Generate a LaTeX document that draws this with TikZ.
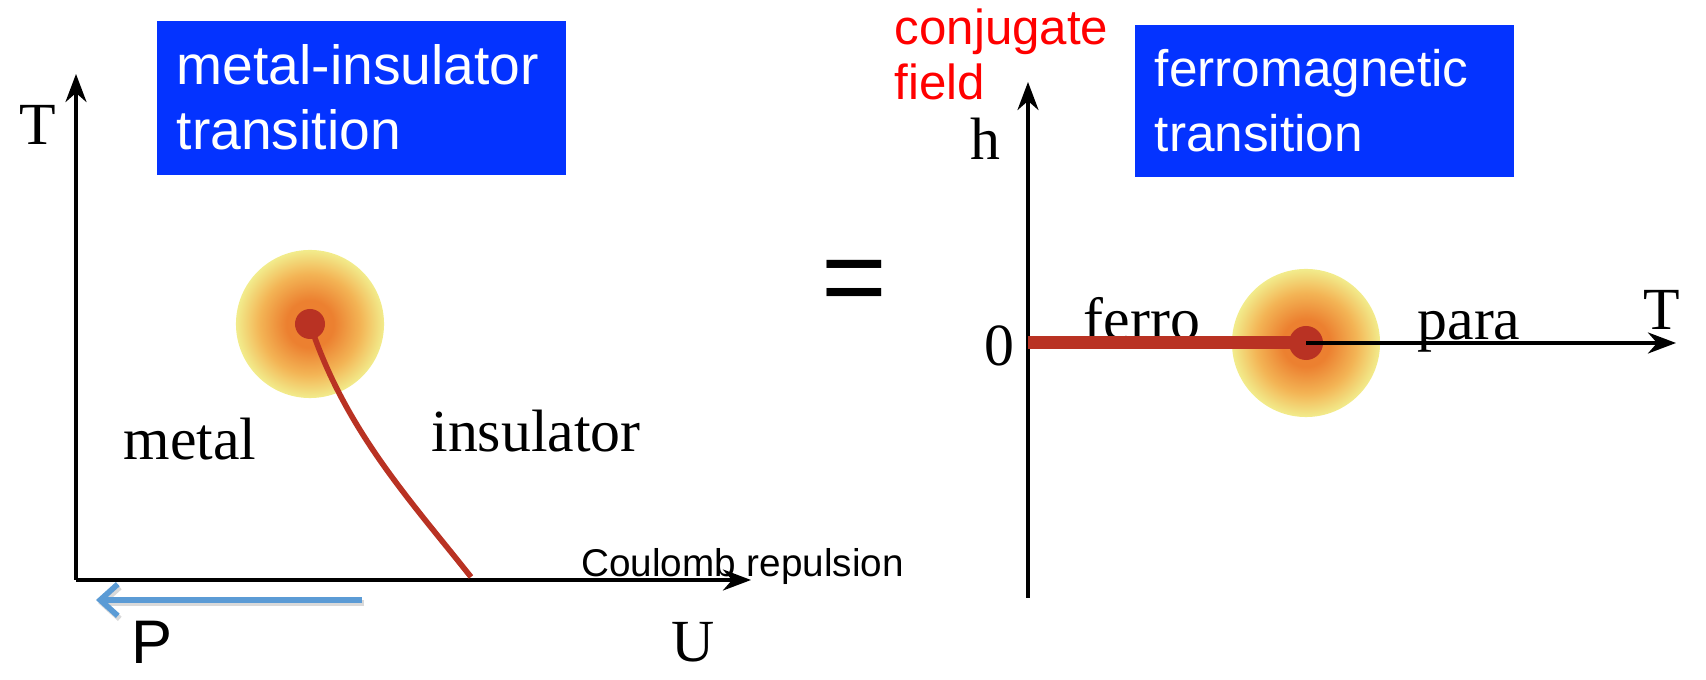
\documentclass[tikz,border=0pt]{standalone}
\usepackage{fontspec}
\setmainfont{Liberation Serif}
\setsansfont{Liberation Sans}
\usetikzlibrary{arrows.meta,positioning,calc}
\definecolor{titleblue}{RGB}{4,51,255}
\definecolor{critred}{RGB}{185,50,35}
\definecolor{glowcore}{RGB}{236,128,48}
\definecolor{glowmid}{RGB}{243,180,85}
\definecolor{glowrim}{RGB}{242,236,140}
\definecolor{pressblue}{RGB}{91,155,213}
\pgfdeclareradialshading{glowshade}{\pgfpoint{0bp}{0bp}}{color(0bp)=(glowcore); color(8bp)=(glowcore); color(17bp)=(glowmid); color(25bp)=(glowrim); color(50bp)=(glowrim)}

\begin{document}
\begin{tikzpicture}[
    x=0.01cm, y=-0.01cm,
    axis/.style={line width=0.9pt, -{Stealth[length=8pt, width=6pt]}},
    title/.style={rectangle, fill=titleblue, text=white, anchor=north west, align=left,
        inner xsep=0.2cm},
    serif/.style={font=\fontsize{17}{20}\selectfont},
    glow/.style={circle, shade, shading=glowshade, minimum size=1.48cm, inner sep=0pt},
    critpt/.style={circle, fill=critred, minimum size=0.3cm, inner sep=0pt}
]
    \useasboundingbox (0,0) rectangle (1706,680);

    % Metal-insulator diagram
    \coordinate (O1) at (76,580);
    \coordinate (Ttip) at (76,74);
    \coordinate (Utip) at (751,580);
    \draw[axis] (O1) -- (Ttip);
    \draw[axis] (O1) -- (Utip);
    \node[serif] (Tlab) at (38,125) {T};
    \node[serif] (Ulab) at (693,642) {U};
    \node[font=\sffamily\fontsize{11}{13}\selectfont, anchor=base west] (coul) at (569,577) {Coulomb repulsion};

    \node[title, text width=3.69cm, minimum height=1.54cm, font=\sffamily\fontsize{15.7}{18.5}\selectfont] (mit) at (156,20) {metal-insulator\\transition};

    \node[glow] (glowL) at (310,324) {};
    \coordinate (Uc) at (471,577);
    \draw[critred, line width=1.6pt] (glowL.center) .. controls (345,430) and (410,500) .. (Uc);
    \node[critpt] (cpL) at (glowL) {};

    \node[serif, anchor=base] (metal) at (190,460) {metal};
    \node[serif, anchor=base] (insul) at (536,452) {insulator};

    % Pressure arrow
    \coordinate (Pstart) at (362,600);
    \coordinate (Pend) at (96,600);
    \draw[gray!30, line width=1.6pt, -{Straight Barb[length=5pt, width=9pt]}] ($(Pstart)+(2,3)$) -- ($(Pend)+(2,3)$);
    \draw[pressblue, line width=1.6pt, -{Straight Barb[length=5pt, width=9pt]}] (Pstart) -- (Pend);
    \node[font=\sffamily\fontsize{17.5}{20}\selectfont, inner sep=0pt, anchor=base] (Plab) at (152,664) {P};

    \node[font=\sffamily\fontsize{32}{36}\selectfont] (eq) at (854,288) {=};

    % Ferromagnet diagram
    \coordinate (O2) at (1028,343);
    \coordinate (hbot) at (1028,598);
    \coordinate (htip) at (1028,82);
    \coordinate (Ttip2) at (1676,343);
    \draw[axis] (hbot) -- (htip);
    \node[serif] (hlab) at (985,139) {h};
    \node[serif] (zero) at (999,346) {0};
    \node[serif] (Tlab2) at (1662,310) {T};
    \node[font=\sffamily\fontsize{14}{15.6}\selectfont, text=red, align=left, anchor=west, inner sep=0pt] (conj) at (894,54) {conjugate\\field};

    \node[title, text width=3.39cm, minimum height=1.52cm, font=\sffamily\fontsize{14.6}{18.5}\selectfont] (fmt) at (1134,24) {ferromagnetic\\transition};

    \node[serif, anchor=base] (ferro) at (1142,340) {ferro};
    \node[serif, anchor=base] (para) at (1469,340) {para};
    \node[glow] (glowR) at (1306,343) {};
    \draw[critred, line width=3.7pt] (O2) -- (glowR.center);
    \node[critpt, minimum size=0.34cm] (cpR) at (glowR) {};
    \draw[axis] (cpR.center) -- (Ttip2);
\end{tikzpicture}
\end{document}
